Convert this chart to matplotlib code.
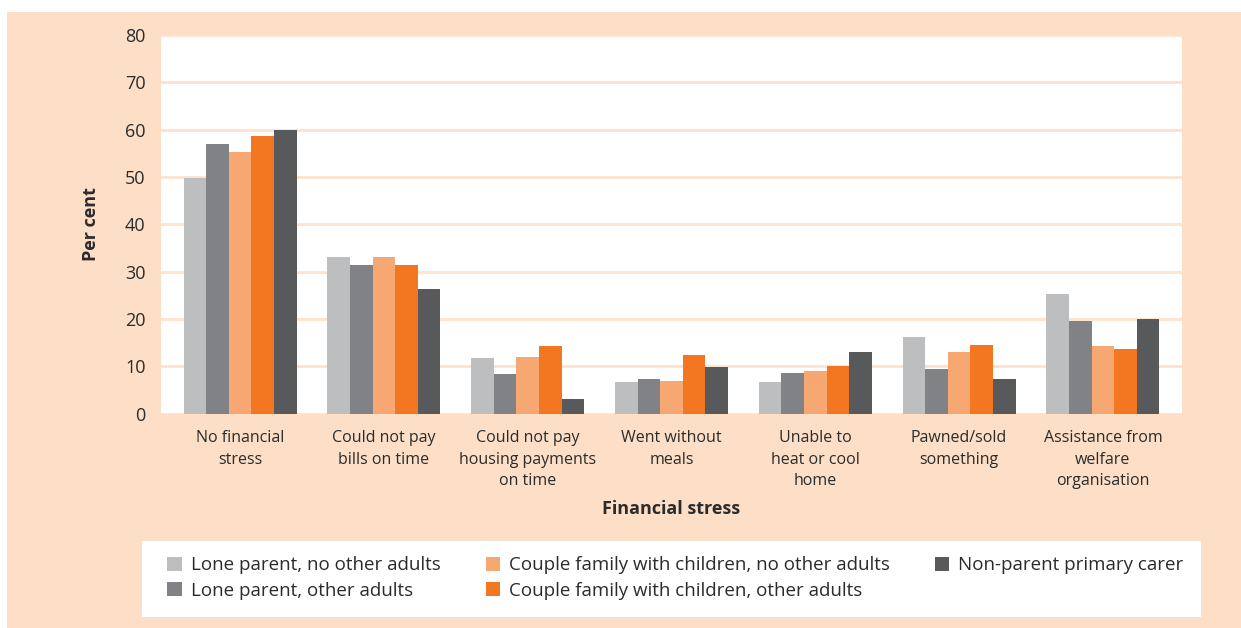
import matplotlib.pyplot as plt
import numpy as np
from matplotlib.patches import Rectangle

# data
categories = ['No financial\nstress', 'Could not pay\nbills on time', 'Could not pay\nhousing payments\non time',
              'Went without\nmeals', 'Unable to\nheat or cool\nhome', 'Pawned/sold\nsomething',
              'Assistance from\nwelfare\norganisation']
series_names = ['Lone parent, no other adults', 'Lone parent, other adults',
                'Couple family with children, no other adults', 'Couple family with children, other adults',
                'Non-parent primary carer']
lone_no_other = [49.7, 33.1, 11.7, 6.8, 6.6, 16.3, 25.2]
lone_other = [56.9, 31.5, 8.3, 7.4, 8.7, 9.5, 19.5]
couple_no_other = [55.2, 33.1, 11.9, 7.0, 9.1, 13.1, 14.4]
couple_other = [58.6, 31.5, 14.4, 12.3, 10.1, 14.6, 13.6]
non_parent = [59.9, 26.4, 3.2, 9.8, 13.1, 7.4, 20.0]
colors = ['#BCBEC0', '#808285', '#F7A872', '#F37721', '#58595B']

PEACH = '#FDDFC7'
GRID = '#FDE3CC'
TXT = '#2B2B2B'

plt.rcParams['font.family'] = ['Open Sans', 'DejaVu Sans']

fig = plt.figure(figsize=(12.41, 6.28), dpi=100)
fig.patch.set_facecolor('white')
# peach panel
fig.patches.append(Rectangle((7 / 1241, 0), 1 - 7 / 1241, 1 - 12 / 628,
                             transform=fig.transFigure, facecolor=PEACH, edgecolor='none', zorder=-10))

ax = fig.add_axes([161 / 1241, 214.3 / 628, 1021 / 1241, 378.7 / 628])
ax.set_facecolor('white')

all_series = [lone_no_other, lone_other, couple_no_other, couple_other, non_parent]
x = np.arange(len(categories))
w = 0.157
bars = []
for i, vals in enumerate(all_series):
    b = ax.bar(x + (i - 2) * w, vals, width=w, color=colors[i], label=series_names[i], zorder=3)
    bars.append(b)

ax.set_xlim(-0.55, len(categories) - 0.45)
ax.set_ylim(0, 80)
ax.set_yticks(np.arange(0, 81, 10))
ax.yaxis.grid(True, color=GRID, linewidth=2, zorder=0)
ax.set_axisbelow(True)
for s in ax.spines.values():
    s.set_visible(False)
ax.tick_params(axis='both', length=0, colors=TXT)
ax.tick_params(axis='y', pad=11, labelsize=13)
ax.set_xticks(x)
ax.set_xticklabels(categories, fontsize=11.5, color=TXT, linespacing=1.45)
ax.tick_params(axis='x', pad=12)

ax.set_ylabel('Per cent', fontsize=13, fontweight='bold', color=TXT, labelpad=18)
ax.set_xlabel('Financial stress', fontsize=13, fontweight='bold', color=TXT, labelpad=8)

# legend box
fig.patches.append(Rectangle((142 / 1241, 11 / 628), 1059 / 1241, 76 / 628,
                             transform=fig.transFigure, facecolor='white', edgecolor='none', zorder=-5))
fig.legend(handles=bars, labels=series_names, ncol=3, frameon=False,
           loc='center left', bbox_to_anchor=(160 / 1241, 50 / 628),
           fontsize=13.5, handlelength=0.75, handleheight=0.75, handletextpad=0.5,
           columnspacing=2.4, labelspacing=0.38, labelcolor=TXT, borderaxespad=0)

fig.savefig('out.png', dpi=100, facecolor=fig.get_facecolor())
